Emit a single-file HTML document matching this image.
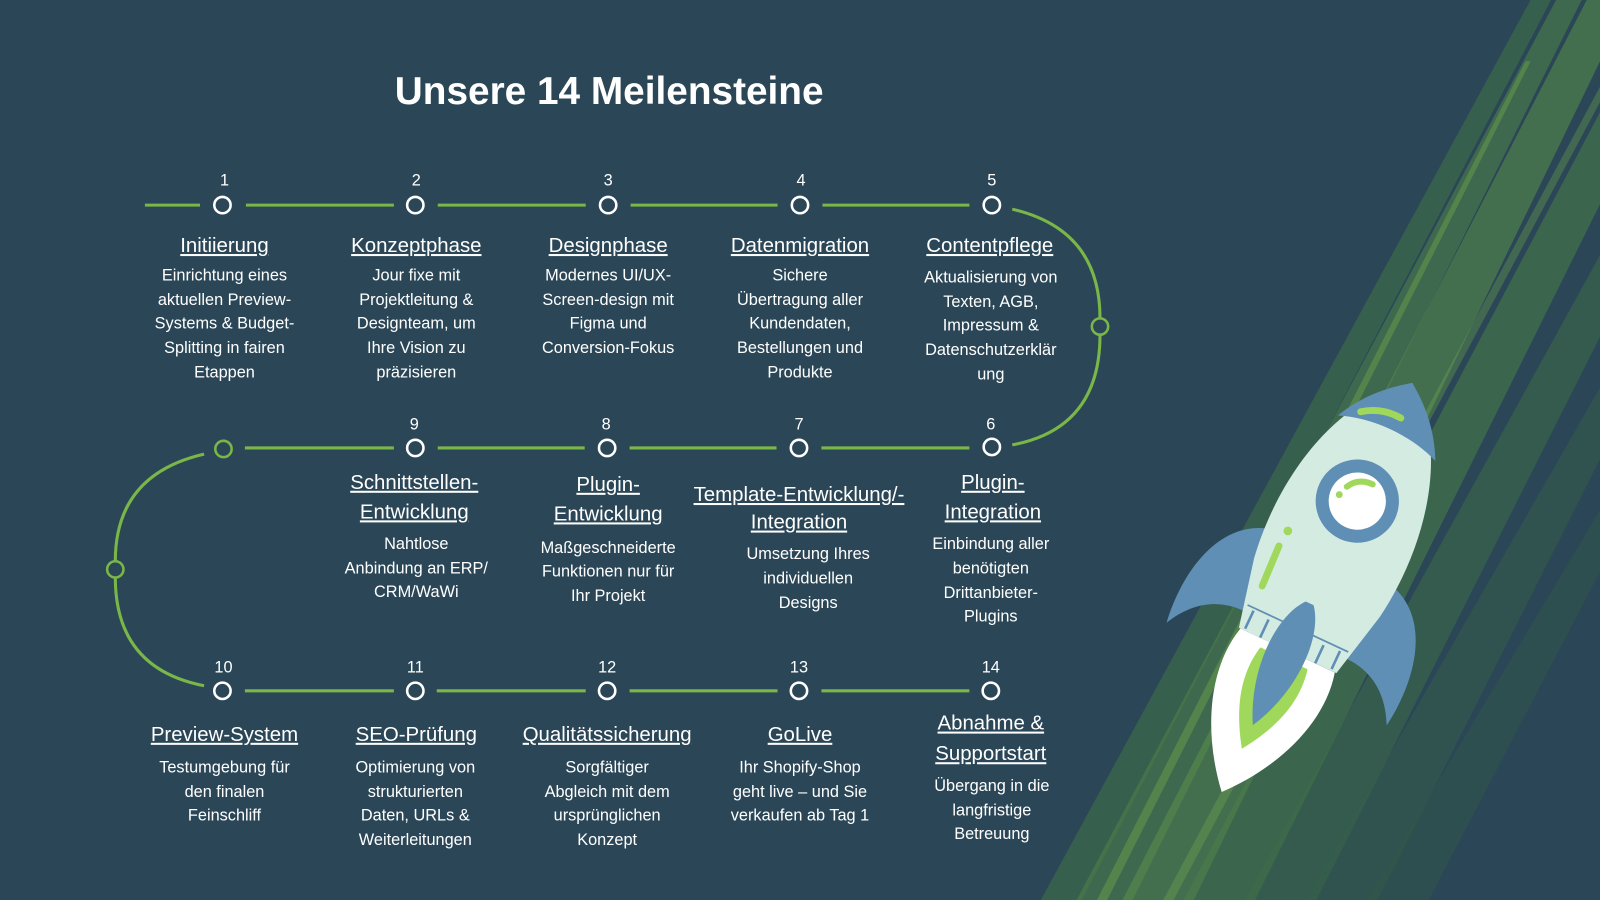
<!DOCTYPE html>
<html><head><meta charset="utf-8"><style>
html,body{margin:0;padding:0;background:#2b4757;}
svg{display:block}
text{font-family:"Liberation Sans",sans-serif;fill:#fff;text-anchor:middle}
.n{font-size:16px}
.t{font-size:20px;text-decoration:underline}
.b{font-size:16px}
</style></head><body>
<svg width="1600" height="900" viewBox="0 0 1568 882" preserveAspectRatio="none" xmlns="http://www.w3.org/2000/svg">
<rect width="1568" height="882" fill="#2b4757"/>
<!-- streaks -->
<g>
<polygon points="1020,882 1060,882 1520,0 1500,0" fill="#3d6a4a" opacity="0.7"/>
<polygon points="1055,882 1110,882 1550,0 1525,0" fill="#4d8048" opacity="0.6"/>
<polygon points="1100,882 1170,882 1568,60 1568,0 1555,0" fill="#5a9049" opacity="0.55"/>
<polygon points="1160,882 1230,882 1568,200 1568,110" fill="#4a7d47" opacity="0.55"/>
<polygon points="1220,882 1290,882 1568,330 1568,250" fill="#3e6c47" opacity="0.55"/>
<polygon points="1280,882 1350,882 1568,450 1568,380" fill="#365f48" opacity="0.5"/>
<polygon points="1340,882 1400,882 1568,560 1568,500" fill="#325848" opacity="0.45"/>
<polygon points="1075,882 1085,882 1500,60 1495,60" fill="#7ab648" opacity="0.35"/>
<polygon points="1140,882 1150,882 1568,100 1568,85" fill="#7ab648" opacity="0.3"/>
</g>
<!-- title -->
<text x="597" y="102" style="font-size:38px;font-weight:bold">Unsere 14 Meilensteine</text>
<!-- connectors -->
<g stroke="#7ab648" stroke-width="3" fill="none">
<path d="M142 201H196M241 201H386M429 201H574M618 201H762M806 201H950"/>
<path d="M240 439H386M429 439H573M617 439H761M805 439H950"/>
<path d="M240 677H386M428 677H574M617 677H762M805 677H950"/>
<path d="M992 205 Q1078 225 1078 312 M1078 328 Q1078 420 992 436"/>
<path d="M200 445 Q113 465 113 550 M113 566 Q113 655 200 672"/>
</g>
<g fill="none" stroke="#7ab648" stroke-width="2.5">
<circle cx="1078" cy="320" r="8"/><circle cx="219" cy="440" r="8"/><circle cx="113" cy="558" r="8"/>
</g>
<g fill="none" stroke="#fff" stroke-width="2.5">
<circle cx="218" cy="201" r="8"/><circle cx="407" cy="201" r="8"/><circle cx="596" cy="201" r="8"/><circle cx="784" cy="201" r="8"/><circle cx="972" cy="201" r="8"/>
<circle cx="407" cy="439" r="8"/><circle cx="595" cy="439" r="8"/><circle cx="783" cy="439" r="8"/><circle cx="972" cy="438" r="8"/>
<circle cx="218" cy="677" r="8"/><circle cx="407" cy="677" r="8"/><circle cx="595" cy="677" r="8"/><circle cx="783" cy="677" r="8"/><circle cx="971" cy="677" r="8"/>
</g>
<!-- numbers -->
<text class="n" x="220" y="182">1</text><text class="n" x="408" y="182">2</text><text class="n" x="596" y="182">3</text><text class="n" x="785" y="182">4</text><text class="n" x="972" y="182">5</text>
<text class="n" x="406" y="421">9</text><text class="n" x="594" y="421">8</text><text class="n" x="783" y="421">7</text><text class="n" x="971" y="421">6</text>
<text class="n" x="219" y="659">10</text><text class="n" x="407" y="659">11</text><text class="n" x="595" y="659">12</text><text class="n" x="783" y="659">13</text><text class="n" x="971" y="659">14</text>
<!-- row 1 -->
<text class="t" x="220" y="247">Initiierung</text>
<text class="b" x="220" y="275">Einrichtung eines</text><text class="b" x="220" y="299">aktuellen Preview-</text><text class="b" x="220" y="322">Systems &amp; Budget-</text><text class="b" x="220" y="346">Splitting in fairen</text><text class="b" x="220" y="370">Etappen</text>
<text class="t" x="408" y="247">Konzeptphase </text>
<text class="b" x="408" y="275">Jour fixe mit</text><text class="b" x="408" y="299">Projektleitung &amp;</text><text class="b" x="408" y="322">Designteam, um</text><text class="b" x="408" y="346">Ihre Vision zu</text><text class="b" x="408" y="370">präzisieren</text>
<text class="t" x="596" y="247">Designphase</text>
<text class="b" x="596" y="275">Modernes UI/UX-</text><text class="b" x="596" y="299">Screen-design mit</text><text class="b" x="596" y="322">Figma und</text><text class="b" x="596" y="346">Conversion-Fokus</text>
<text class="t" x="784" y="247">Datenmigration</text>
<text class="b" x="784" y="275">Sichere</text><text class="b" x="784" y="299">Übertragung aller</text><text class="b" x="784" y="322">Kundendaten,</text><text class="b" x="784" y="346">Bestellungen und</text><text class="b" x="784" y="370">Produkte</text>
<text class="t" x="970" y="247">Contentpflege</text>
<text class="b" x="971" y="277">Aktualisierung von</text><text class="b" x="971" y="301">Texten, AGB,</text><text class="b" x="971" y="324">Impressum &amp;</text><text class="b" x="971" y="348">Datenschutzerklär</text><text class="b" x="971" y="372">ung</text>
<!-- row 2 -->
<text class="t" x="406" y="479">Schnittstellen-</text><text class="t" x="406" y="508">Entwicklung</text>
<text class="b" x="408" y="538">Nahtlose</text><text class="b" x="408" y="562">Anbindung an ERP/</text><text class="b" x="408" y="585">CRM/WaWi</text>
<text class="t" x="596" y="481">Plugin-</text><text class="t" x="596" y="510">Entwicklung</text>
<text class="b" x="596" y="542">Maßgeschneiderte</text><text class="b" x="596" y="565">Funktionen nur für</text><text class="b" x="596" y="589">Ihr Projekt</text>
<text class="t" x="783" y="491">Template-Entwicklung/-</text><text class="t" x="783" y="518">Integration</text>
<text class="b" x="792" y="548">Umsetzung Ihres</text><text class="b" x="792" y="572">individuellen</text><text class="b" x="792" y="596">Designs</text>
<text class="t" x="973" y="479">Plugin-</text><text class="t" x="973" y="508">Integration</text>
<text class="b" x="971" y="538">Einbindung aller</text><text class="b" x="971" y="562">benötigten</text><text class="b" x="971" y="586">Drittanbieter-</text><text class="b" x="971" y="609">Plugins</text>
<!-- row 3 -->
<text class="t" x="220" y="726">Preview-System</text>
<text class="b" x="220" y="757">Testumgebung für</text><text class="b" x="220" y="781">den finalen</text><text class="b" x="220" y="804">Feinschliff</text>
<text class="t" x="408" y="726">SEO-Prüfung</text>
<text class="b" x="407" y="757">Optimierung von</text><text class="b" x="407" y="781">strukturierten</text><text class="b" x="407" y="804">Daten, URLs &amp;</text><text class="b" x="407" y="828">Weiterleitungen</text>
<text class="t" x="595" y="726">Qualitätssicherung</text>
<text class="b" x="595" y="757">Sorgfältiger</text><text class="b" x="595" y="781">Abgleich mit dem</text><text class="b" x="595" y="804">ursprünglichen</text><text class="b" x="595" y="828">Konzept</text>
<text class="t" x="784" y="726">GoLive</text>
<text class="b" x="784" y="757">Ihr Shopify-Shop</text><text class="b" x="784" y="781">geht live – und Sie</text><text class="b" x="784" y="804">verkaufen ab Tag 1</text>
<text class="t" x="971" y="715">Abnahme &amp;</text><text class="t" x="971" y="745">Supportstart </text>
<text class="b" x="972" y="775">Übergang in die</text><text class="b" x="972" y="799">langfristige</text><text class="b" x="972" y="822">Betreuung</text>
<!-- rocket -->
<g transform="translate(1305,545) rotate(25) scale(0.85)">
<path d="M-60 120 C-75 180 -45 250 0 300 C45 250 75 180 60 120 Z" fill="#fff"/>
<path d="M-30 130 C-40 175 -20 215 0 245 C20 215 40 175 30 130 Z" fill="#9fd85a"/>
<path d="M-70 0 C-130 10 -150 80 -140 150 C-120 110 -90 100 -65 100 Z" fill="#5f8fb4"/>
<path d="M70 0 C130 10 150 80 140 150 C120 110 90 100 65 100 Z" fill="#5f8fb4"/>
<path d="M0 -220 C70 -170 95 -60 80 40 L62 120 L-62 120 L-80 40 C-95 -60 -70 -170 0 -220 Z" fill="#d4ebe2"/>
<path d="M0 -220 C30 -200 50 -175 62 -150 C25 -165 -25 -165 -62 -150 C-50 -175 -30 -200 0 -220 Z" fill="#5f8fb4"/>
<g stroke="#5f8fb4" stroke-width="3"><line x1="-55" y1="95" x2="-55" y2="118"/><line x1="-35" y1="97" x2="-35" y2="120"/><line x1="-15" y1="98" x2="-15" y2="120"/><line x1="15" y1="98" x2="15" y2="120"/><line x1="35" y1="97" x2="35" y2="120"/><line x1="55" y1="95" x2="55" y2="118"/></g>
<line x1="-64" y1="92" x2="64" y2="92" stroke="#5f8fb4" stroke-width="2"/>
<circle cx="0" cy="-70" r="48" fill="#5f8fb4"/>
<circle cx="0" cy="-70" r="33" fill="#fff"/>
<path d="M-18 -80 Q-10 -95 8 -95" stroke="#9fd85a" stroke-width="7" fill="none" stroke-linecap="round"/>
<circle cx="-22" cy="-68" r="4" fill="#9fd85a"/>
<path d="M-40 -165 Q-20 -180 5 -178" stroke="#9fd85a" stroke-width="8" fill="none" stroke-linecap="round"/>
<circle cx="-58" cy="-5" r="5" fill="#9fd85a"/>
<line x1="-60" y1="15" x2="-58" y2="65" stroke="#9fd85a" stroke-width="8" stroke-linecap="round"/>
<path d="M-5 60 C-30 90 -30 160 0 215 C30 160 30 90 5 60 Z" fill="#5f8fb4"/>
</g>
</svg>
</body></html>
